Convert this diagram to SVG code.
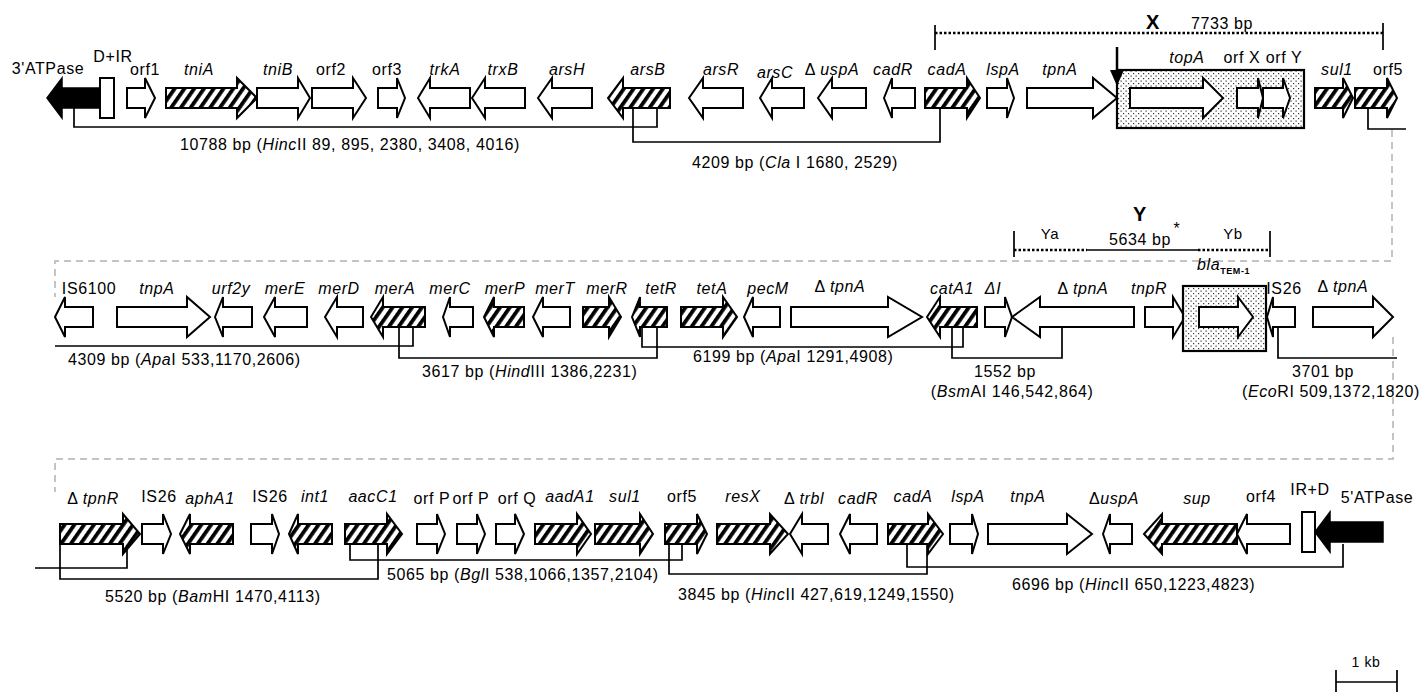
<svg xmlns="http://www.w3.org/2000/svg" width="1420" height="692" viewBox="0 0 1420 692">
<style>
.t{font-family:"Liberation Sans",Arial,sans-serif;font-size:16px;fill:#000;letter-spacing:0.6px}
.m{text-anchor:middle}
.i{font-style:italic}
.w{fill:#fff;stroke:#000;stroke-width:2;stroke-linejoin:miter}
.h{fill:url(#hatch);stroke:#000;stroke-width:2}
.k{fill:#000;stroke:#000;stroke-width:1.5}
.s{fill:url(#dots);stroke:#000;stroke-width:2.2}
.c{fill:none;stroke:#000;stroke-width:1.7}
.d{fill:none;stroke:#c4c4c4;stroke-width:2;stroke-dasharray:7,5}
.p{fill:none;stroke:#000;stroke-width:2.5;stroke-dasharray:2.5,2}
</style>
<defs>
<pattern id="hatch" patternUnits="userSpaceOnUse" width="8" height="8" patternTransform="rotate(35)">
<rect width="8" height="8" fill="#fff"/><rect x="0" y="0" width="3.8" height="8" fill="#000"/>
</pattern>
<pattern id="dots" patternUnits="userSpaceOnUse" width="5" height="5">
<rect width="5" height="5" fill="#fff"/><rect x="0.5" y="0.5" width="1.2" height="1.2" fill="#333"/><rect x="3" y="3" width="1.2" height="1.2" fill="#333"/>
</pattern>
</defs>
<rect width="1420" height="692" fill="#fff"/>

<g id="connectors">
<path class="c" d="M74 108V127H657V108"/>
<path class="c" d="M633 108V142H940V108"/>
<path class="c" d="M1368 108V129H1406"/>
<path class="d" d="M1392 130V261H55V297"/>
<path class="c" d="M55 346H413V327"/>
<path class="c" d="M399 327V358H657V327"/>
<path class="c" d="M642 327V347H963V327"/>
<path class="c" d="M952 327V358H1062V327"/>
<path class="c" d="M1278 327V358H1397"/>
<path class="d" d="M1393 337V459H55V492"/>
<path class="c" d="M35 568H127V546"/>
<path class="c" d="M60 544V579H378V544"/>
<path class="c" d="M350 544V560H682V544"/>
<path class="c" d="M669 544V574H927V544"/>
<path class="c" d="M907 544V567H1343V544"/>
</g>

<g id="fragments">
<text class="t" x="180" y="150">10788 bp (<tspan class="i">Hinc</tspan>II 89, 895, 2380, 3408, 4016)</text>
<text class="t" x="692" y="168">4209 bp (<tspan class="i">Cla</tspan> I 1680, 2529)</text>
<text class="t" x="68" y="365">4309 bp (<tspan class="i">Apa</tspan>I 533,1170,2606)</text>
<text class="t" x="422" y="377">3617 bp (<tspan class="i">Hind</tspan>III 1386,2231)</text>
<text class="t" x="693" y="362">6199 bp (<tspan class="i">Apa</tspan>I 1291,4908)</text>
<text class="t m" x="1005" y="377">1552 bp</text>
<text class="t m" x="1012" y="397">(<tspan class="i">Bsm</tspan>AI 146,542,864)</text>
<text class="t m" x="1323" y="377">3701 bp</text>
<text class="t m" x="1331" y="397">(<tspan class="i">Eco</tspan>RI 509,1372,1820)</text>
<text class="t" x="105" y="602">5520 bp (<tspan class="i">Bam</tspan>HI 1470,4113)</text>
<text class="t" x="387" y="580">5065 bp (<tspan class="i">Bgl</tspan>I 538,1066,1357,2104)</text>
<text class="t" x="678" y="600">3845 bp (<tspan class="i">Hinc</tspan>II 427,619,1249,1550)</text>
<text class="t" x="1012" y="590">6696 bp (<tspan class="i">Hinc</tspan>II 650,1223,4823)</text>
</g>

<g id="regionX">
<path class="p" d="M935 33H1383"/>
<path class="c" stroke-width="2" d="M935 25V50M1383 23V50"/>
<text class="t m" x="1153" y="29" style="font-weight:bold;font-size:20px">X</text>
<text class="t m" x="1222" y="29" style="font-size:16px">7733 bp</text>
</g>

<g id="regionY">
<path class="p" d="M1014 250H1087"/>
<path class="c" d="M1087 250H1198"/>
<path class="p" d="M1198 250H1270"/>
<path class="c" stroke-width="2" d="M1014 231V257M1270 231V257"/>
<text class="t m" x="1140" y="221" style="font-weight:bold;font-size:20px">Y</text>
<text class="t m" x="1050" y="239" style="font-size:15px">Ya</text>
<text class="t m" x="1140" y="245" style="font-size:16px">5634 bp</text>
<text class="t m" x="1177" y="234" style="font-size:16px">*</text>
<text class="t m" x="1233" y="239" style="font-size:15px">Yb</text>
</g>

<!-- Row 1 -->
<g id="atpase3"><polygon class="k" points="47,98 62,78 62,88 100,88 100,108 62,108 62,118"/><text class="t m" x="48" y="74">3'ATPase</text></g>
<g id="dir1"><rect class="w" x="100" y="78" width="14" height="40"/><text class="t m" x="113" y="62">D+IR</text></g>
<g id="orf1"><polygon class="w" points="127,88 145,88 145,78 155,98 145,118 145,108 127,108"/><text class="t m" x="145" y="75">orf1</text></g>
<g id="tniA"><polygon class="h" points="166,88 237,88 237,78 257,98 237,118 237,108 166,108"/><text class="t m i" x="199" y="75">tniA</text></g>
<g id="tniB"><polygon class="w" points="257,88 298,88 298,78 310,98 298,118 298,108 257,108"/><text class="t m i" x="278" y="75">tniB</text></g>
<g id="orf2"><polygon class="w" points="312,88 353,88 353,78 366,98 353,118 353,108 312,108"/><text class="t m" x="331" y="75">orf2</text></g>
<g id="orf3"><polygon class="w" points="378,88 397,88 397,78 405,98 397,118 397,108 378,108"/><text class="t m" x="387" y="75">orf3</text></g>
<g id="trkA"><polygon class="w" points="418,98 430,78 430,88 470,88 470,108 430,108 430,118"/><text class="t m i" x="445" y="75">trkA</text></g>
<g id="trxB"><polygon class="w" points="472,98 485,78 485,88 525,88 525,108 485,108 485,118"/><text class="t m i" x="503" y="75">trxB</text></g>
<g id="arsH"><polygon class="w" points="538,98 552,78 552,88 592,88 592,108 552,108 552,118"/><text class="t m i" x="567" y="75">arsH</text></g>
<g id="arsB"><polygon class="h" points="608,98 623,78 623,88 670,88 670,108 623,108 623,118"/><text class="t m i" x="648" y="75">arsB</text></g>
<g id="arsR"><polygon class="w" points="689,98 703,78 703,88 743,88 743,108 703,108 703,118"/><text class="t m i" x="721" y="75">arsR</text></g>
<g id="arsC"><polygon class="w" points="760,98 772,78 772,88 804,88 804,108 772,108 772,118"/><text class="t m i" x="775" y="78">arsC</text></g>
<g id="uspA1"><polygon class="w" points="818,98 832,78 832,88 866,88 866,108 832,108 832,118"/><text class="t m" x="832" y="75">Δ <tspan class="i">uspA</tspan></text></g>
<g id="cadR1"><polygon class="w" points="884,98 892,78 892,88 915,88 915,108 892,108 892,118"/><text class="t m i" x="893" y="75">cadR</text></g>
<g id="cadA1"><polygon class="h" points="925,88 967,88 967,78 980,98 967,118 967,108 925,108"/><text class="t m i" x="947" y="75">cadA</text></g>
<g id="lspA1"><polygon class="w" points="987,88 1007,88 1007,78 1014,98 1007,118 1007,108 987,108"/><text class="t m i" x="1003" y="75">lspA</text></g>
<g id="tpnA1"><polygon class="w" points="1027,88 1093,88 1093,78 1117,98 1093,118 1093,108 1027,108"/><text class="t m i" x="1060" y="75">tpnA</text></g>
<g id="boxX">
<rect class="s" x="1117" y="70" width="187" height="58"/>
<polygon class="w" points="1130,88 1203,88 1203,78 1223,98 1203,118 1203,108 1130,108"/>
<polygon class="w" points="1237,88 1258,88 1258,78 1263,98 1258,118 1258,108 1237,108"/>
<polygon class="w" points="1263,88 1283,88 1283,78 1290,98 1283,118 1283,108 1263,108"/>
<text class="t m i" x="1187" y="63">topA</text>
<text class="t m" x="1242" y="63">orf X</text>
<text class="t m" x="1284" y="63">orf Y</text>
</g>
<g id="insertArrow"><path d="M1117 47V74" stroke="#000" stroke-width="2.5"/><polygon points="1110,70 1124,70 1117,86" fill="#000"/></g>
<g id="sul1a"><polygon class="h" points="1315,88 1343,88 1343,78 1353,98 1343,118 1343,108 1315,108"/><text class="t m i" x="1337" y="75">sul1</text></g>
<g id="orf5a"><polygon class="h" points="1355,88 1387,88 1387,78 1397,98 1387,118 1387,108 1355,108"/><text class="t m" x="1388" y="75">orf5</text></g>

<!-- Row 2 -->
<g id="IS6100"><polygon class="w" points="55,317 65,297 65,307 93,307 93,327 65,327 65,337"/><text class="t m" x="89" y="294">IS6100</text></g>
<g id="tnpA2"><polygon class="w" points="117,307 187,307 187,297 210,317 187,337 187,327 117,327"/><text class="t m i" x="157" y="294">tnpA</text></g>
<g id="urf2y"><polygon class="w" points="215,317 223,297 223,307 252,307 252,327 223,327 223,337"/><text class="t m i" x="231" y="294">urf2y</text></g>
<g id="merE"><polygon class="w" points="264,317 275,297 275,307 307,307 307,327 275,327 275,337"/><text class="t m i" x="285" y="294">merE</text></g>
<g id="merD"><polygon class="w" points="325,317 337,297 337,307 363,307 363,327 337,327 337,337"/><text class="t m i" x="339" y="294">merD</text></g>
<g id="merA"><polygon class="h" points="371,317 383,297 383,307 425,307 425,327 383,327 383,337"/><text class="t m i" x="395" y="294">merA</text></g>
<g id="merC"><polygon class="w" points="443,317 450,297 450,307 473,307 473,327 450,327 450,337"/><text class="t m i" x="450" y="294">merC</text></g>
<g id="merP"><polygon class="h" points="484,317 494,297 494,307 524,307 524,327 494,327 494,337"/><text class="t m i" x="505" y="294">merP</text></g>
<g id="merT"><polygon class="w" points="533,317 543,297 543,307 570,307 570,327 543,327 543,337"/><text class="t m i" x="555" y="294">merT</text></g>
<g id="merR"><polygon class="h" points="583,307 609,307 609,297 621,317 609,337 609,327 583,327"/><text class="t m i" x="607" y="294">merR</text></g>
<g id="tetR"><polygon class="h" points="632,317 640,297 640,307 667,307 667,327 640,327 640,337"/><text class="t m i" x="661" y="294">tetR</text></g>
<g id="tetA"><polygon class="h" points="681,307 723,307 723,297 737,317 723,337 723,327 681,327"/><text class="t m i" x="712" y="294">tetA</text></g>
<g id="pecM"><polygon class="w" points="744,317 753,297 753,307 780,307 780,327 753,327 753,337"/><text class="t m i" x="768" y="294">pecM</text></g>
<g id="dtpnA1"><polygon class="w" points="791,307 888,307 888,297 922,317 888,337 888,327 791,327"/><text class="t m" x="840" y="292">Δ <tspan class="i">tpnA</tspan></text></g>
<g id="catA1"><polygon class="h" points="927,317 940,297 940,307 977,307 977,327 940,327 940,337"/><text class="t m i" x="952" y="294">catA1</text></g>
<g id="dI"><polygon class="w" points="985,307 1005,307 1005,297 1012,317 1005,337 1005,327 985,327"/><text class="t m i" x="993" y="294">ΔI</text></g>
<g id="dtpnA2"><polygon class="w" points="1012,317 1040,297 1040,307 1134,307 1134,327 1040,327 1040,337"/><text class="t m" x="1083" y="294">Δ <tspan class="i">tpnA</tspan></text></g>
<g id="tnpR"><polygon class="w" points="1145,307 1173,307 1173,297 1185,317 1173,337 1173,327 1145,327"/><text class="t m i" x="1149" y="294">tnpR</text></g>
<g id="boxY">
<rect class="s" x="1183" y="286" width="83" height="65"/>
<polygon class="w" points="1199,307 1238,307 1238,297 1253,317 1238,337 1238,327 1199,327"/>
<text class="t i" x="1197" y="270">bla<tspan style="font-style:normal;font-weight:bold;font-size:9px" dy="4">TEM-1</tspan></text>
</g>
<g id="IS26a"><polygon class="w" points="1267,317 1273,297 1273,307 1295,307 1295,327 1273,327 1273,337"/><text class="t m" x="1284" y="294">IS26</text></g>
<g id="dtpnA3"><polygon class="w" points="1313,307 1373,307 1373,297 1393,317 1373,337 1373,327 1313,327"/><text class="t m" x="1343" y="292">Δ <tspan class="i">tpnA</tspan></text></g>

<!-- Row 3 -->
<g id="dtpnR"><polygon class="h" points="60,524 123,524 123,514 140,534 123,554 123,544 60,544"/><text class="t m" x="93" y="504">Δ <tspan class="i">tpnR</tspan></text></g>
<g id="IS26b"><polygon class="w" points="142,524 163,524 163,514 171,534 163,554 163,544 142,544"/><text class="t m" x="159" y="502">IS26</text></g>
<g id="aphA1"><polygon class="h" points="180,534 190,514 190,524 233,524 233,544 190,544 190,554"/><text class="t m i" x="210" y="504">aphA1</text></g>
<g id="IS26c"><polygon class="w" points="251,524 272,524 272,514 279,534 272,554 272,544 251,544"/><text class="t m" x="270" y="502">IS26</text></g>
<g id="int1"><polygon class="h" points="289,534 298,514 298,524 332,524 332,544 298,544 298,554"/><text class="t m i" x="315" y="502">int1</text></g>
<g id="aacC1"><polygon class="h" points="345,524 387,524 387,514 402,534 387,554 387,544 345,544"/><text class="t m i" x="373" y="502">aacC1</text></g>
<g id="orfP1"><polygon class="w" points="417,524 437,524 437,514 445,534 437,554 437,544 417,544"/><text class="t m" x="432" y="504">orf P</text></g>
<g id="orfP2"><polygon class="w" points="457,524 477,524 477,514 485,534 477,554 477,544 457,544"/><text class="t m" x="471" y="504">orf P</text></g>
<g id="orfQ"><polygon class="w" points="496,524 515,524 515,514 524,534 515,554 515,544 496,544"/><text class="t m" x="517" y="504">orf Q</text></g>
<g id="aadA1"><polygon class="h" points="535,524 577,524 577,514 591,534 577,554 577,544 535,544"/><text class="t m i" x="570" y="502">aadA1</text></g>
<g id="sul1b"><polygon class="h" points="595,524 640,524 640,514 653,534 640,554 640,544 595,544"/><text class="t m i" x="625" y="502">sul1</text></g>
<g id="orf5b"><polygon class="h" points="665,524 697,524 697,514 707,534 697,554 697,544 665,544"/><text class="t m" x="682" y="502">orf5</text></g>
<g id="resX"><polygon class="h" points="717,524 770,524 770,514 788,534 770,554 770,544 717,544"/><text class="t m i" x="743" y="502">resX</text></g>
<g id="dtrbl"><polygon class="w" points="790,534 802,514 802,524 828,524 828,544 802,544 802,554"/><text class="t m" x="804" y="504">Δ <tspan class="i">trbl</tspan></text></g>
<g id="cadR2"><polygon class="w" points="840,534 850,514 850,524 877,524 877,544 850,544 850,554"/><text class="t m i" x="858" y="504">cadR</text></g>
<g id="cadA2"><polygon class="h" points="888,524 928,524 928,514 943,534 928,554 928,544 888,544"/><text class="t m i" x="913" y="502">cadA</text></g>
<g id="lspA2"><polygon class="w" points="950,524 972,524 972,514 978,534 972,554 972,544 950,544"/><text class="t m i" x="968" y="502">lspA</text></g>
<g id="tnpA3"><polygon class="w" points="988,524 1067,524 1067,514 1092,534 1067,554 1067,544 988,544"/><text class="t m i" x="1028" y="502">tnpA</text></g>
<g id="uspA2"><polygon class="w" points="1103,534 1110,514 1110,524 1132,524 1132,544 1110,544 1110,554"/><text class="t m" x="1114" y="504">Δ<tspan class="i">uspA</tspan></text></g>
<g id="sup"><polygon class="h" points="1144,534 1162,514 1162,524 1237,524 1237,544 1162,544 1162,554"/><text class="t m i" x="1197" y="504">sup</text></g>
<g id="orf4"><polygon class="w" points="1237,534 1247,514 1247,524 1290,524 1290,544 1247,544 1247,554"/><text class="t m" x="1261" y="502">orf4</text></g>
<g id="ird"><rect class="w" x="1302" y="512" width="13" height="40"/><text class="t m" x="1310" y="495">IR+D</text></g>
<g id="atpase5"><polygon class="k" points="1315,532 1330,512 1330,522 1383,522 1383,542 1330,542 1330,552"/><text class="t m" x="1377" y="503">5'ATPase</text></g>

<g id="scalebar">
<path class="c" stroke-width="2" d="M1336 682H1397M1336 670V692M1397 670V692"/>
<text class="t m" x="1366" y="667" style="font-size:14px">1 kb</text>
</g>
</svg>
